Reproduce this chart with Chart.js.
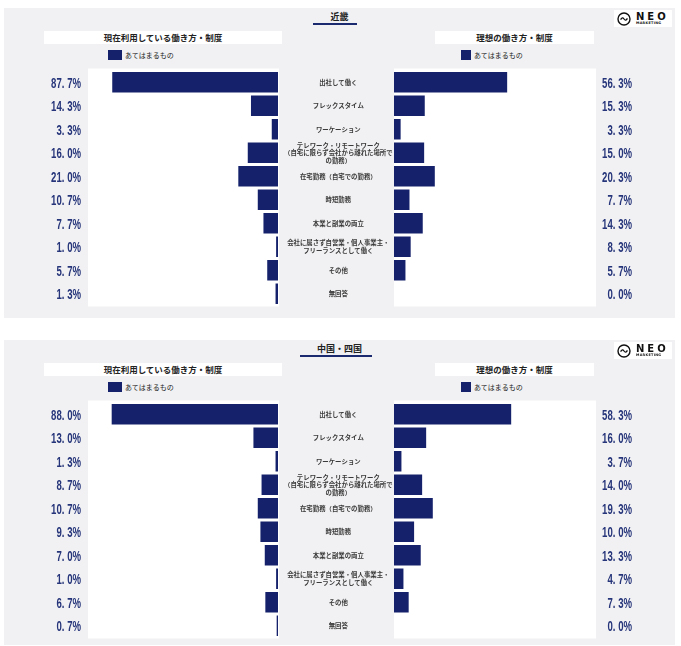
<!DOCTYPE html>
<html lang="ja">
<head>
<meta charset="utf-8">
<script src="https://cdn.jsdelivr.net/npm/chart.js@4.4.1/dist/chart.umd.min.js"></script>
<style>
  body { margin: 0; background: #fff; width: 681px; height: 646px; position: relative; overflow: hidden; font-family: "Noto Sans CJK JP", sans-serif; }
  .panel { position: absolute; left: 4px; width: 671px; background: #f1f1f3; }
  .title { position: absolute; top: 3px; left: 0; width: 671px; text-align: center; font-size: 9px; font-weight: bold; color: #222; line-height: 12px; }
  .uline { position: absolute; top: 15px; height: 2px; background: #1b2a6e; }
  .sub { position: absolute; top: 23px; height: 13px; background: #fff; font-size: 8.5px; font-weight: bold; color: #222; text-align: center; line-height: 13px; }
  .leg { position: absolute; top: 42px; font-size: 7px; color: #222; line-height: 11px; white-space: nowrap; }
  .leg i { display: inline-block; height: 10px; background: #15226b; vertical-align: top; margin-right: 3px; }
  .logo { position: absolute; left: 610px; top: 2px; width: 58px; height: 17px; background: #fff; }
  .logo b { position: absolute; left: 22px; top: 1px; font: bold 10px "DejaVu Sans", sans-serif; letter-spacing: 3px; color: #111; line-height: 11px; }
  .logo small { position: absolute; left: 22px; top: 11px; font: bold 3.4px "DejaVu Sans", sans-serif; letter-spacing: 0.3px; color: #111; }
  .logo svg { position: absolute; left: 3px; top: 2px; }
  canvas { position: absolute; top: 0; }
</style>
</head>
<body>

<div class="panel" id="p1" style="top:8px;height:310px">
  <div class="title">近畿</div>
  <div class="uline" style="left:309px;width:44px"></div>
  <div class="sub" style="left:40px;width:238px">現在利用している働き方・制度</div>
  <div class="sub" style="left:431px;width:159px">理想の働き方・制度</div>
  <div class="leg" style="left:104px"><i style="width:14px"></i>あてはまるもの</div>
  <div class="leg" style="left:457px"><i style="width:10px"></i>あてはまるもの</div>
  <div class="logo"><svg width="14" height="14"><circle cx="7" cy="7" r="6" fill="none" stroke="#111" stroke-width="1.4"/><path d="M3.6 7.6 Q5.3 4.4 7 7 T10.4 6.4" fill="none" stroke="#111" stroke-width="1.3"/></svg><b>NEO</b><small>MARKETING</small></div>
  <canvas id="c1l" width="391" height="310" style="left:0"></canvas>
  <canvas id="c1r" width="281" height="310" style="left:390px"></canvas>
</div>

<div class="panel" id="p2" style="top:340px;height:305px">
  <div class="title">中国・四国</div>
  <div class="uline" style="left:296px;width:72px"></div>
  <div class="sub" style="left:40px;width:238px">現在利用している働き方・制度</div>
  <div class="sub" style="left:431px;width:159px">理想の働き方・制度</div>
  <div class="leg" style="left:104px"><i style="width:14px"></i>あてはまるもの</div>
  <div class="leg" style="left:457px"><i style="width:10px"></i>あてはまるもの</div>
  <div class="logo"><svg width="14" height="14"><circle cx="7" cy="7" r="6" fill="none" stroke="#111" stroke-width="1.4"/><path d="M3.6 7.6 Q5.3 4.4 7 7 T10.4 6.4" fill="none" stroke="#111" stroke-width="1.3"/></svg><b>NEO</b><small>MARKETING</small></div>
  <canvas id="c2l" width="391" height="305" style="left:0"></canvas>
  <canvas id="c2r" width="281" height="305" style="left:390px"></canvas>
</div>

<script>
// Categories (multi-line labels as arrays)
const categories = [
  "出社して働く",
  "フレックスタイム",
  "ワーケーション",
  ["テレワーク・リモートワーク", "（自宅に限らず会社から離れた場所で", "の勤務）"],
  "在宅勤務（自宅での勤務）",
  "時短勤務",
  "本業と副業の両立",
  ["会社に属さず自営業・個人事業主・", "フリーランスとして働く"],
  "その他",
  "無回答"
];

// 近畿
const kinkiNow = [87.7, 14.3, 3.3, 16.0, 21.0, 10.7, 7.7, 1.0, 5.7, 1.3];
const kinkiIdeal = [56.3, 15.3, 3.3, 15.0, 20.3, 7.7, 14.3, 8.3, 5.7, 0.0];

// 中国・四国
const chushikokuNow = [88.0, 13.0, 1.3, 8.7, 10.7, 9.3, 7.0, 1.0, 6.7, 0.7];
const chushikokuIdeal = [58.3, 16.0, 3.7, 14.0, 19.3, 10.0, 13.3, 4.7, 7.3, 0.0];

const seriesLabel = "あてはまるもの";
const barColor = "#15226b";

// white plot background
const plotBg = {
  id: "plotBg",
  beforeDraw(chart) {
    const { ctx, chartArea: a } = chart;
    ctx.save();
    ctx.fillStyle = "#fff";
    ctx.fillRect(a.left - 1, a.top - 2, a.right - a.left + 2, a.bottom - a.top + 3);
    ctx.restore();
  }
};

// percentage labels beside each row (condensed look)
const valueLabels = {
  id: "valueLabels",
  afterDatasetsDraw(chart, args, opts) {
    const ctx = chart.ctx;
    const y = chart.scales.y;
    ctx.save();
    ctx.fillStyle = "#26357a";
    ctx.font = "bold 15px 'Liberation Sans', sans-serif";
    ctx.textAlign = "right";
    ctx.textBaseline = "middle";
    chart.data.datasets[0].data.forEach((v, i) => {
      ctx.save();
      ctx.translate(opts.x, y.getPixelForValue(i) + 1.5);
      ctx.scale(0.64, 1);
      ctx.fillText(v.toFixed(1).replace(".", ". ") + "%", 0, 0);
      ctx.restore();
    });
    ctx.restore();
  }
};

function makePair(leftId, rightId, now, ideal, h) {
  const padTop = 62.5;
  const padBottom = h - padTop - 235;

  // left: currently used (bars grow to the left, categories in the middle)
  new Chart(document.getElementById(leftId), {
    type: "bar",
    data: {
      labels: categories,
      datasets: [{ label: seriesLabel, data: now, backgroundColor: barColor, barPercentage: 0.88, categoryPercentage: 1 }]
    },
    options: {
      indexAxis: "y",
      responsive: false,
      animation: false,
      layout: { padding: { left: 85, top: padTop, bottom: padBottom, right: 0 } },
      scales: {
        x: { display: false, reverse: true, min: 0, max: 100 },
        y: {
          position: "right",
          grid: { display: false, drawTicks: false },
          border: { display: false },
          ticks: {
            crossAlign: "center",
            padding: 6,
            autoSkip: false,
            color: "#3a3a3a",
            font: { size: 6.4, weight: "bold", family: "'Noto Sans CJK JP', sans-serif", lineHeight: 1.16 }
          },
          afterFit(scale) {
            scale.width = 117;
            scale.paddingTop = 0;
            scale.paddingBottom = 0;
          }
        }
      },
      plugins: {
        legend: { display: false },
        tooltip: { enabled: false },
        valueLabels: { x: 77 }
      }
    },
    plugins: [plotBg, valueLabels]
  });

  // right: ideal
  new Chart(document.getElementById(rightId), {
    type: "bar",
    data: {
      labels: categories,
      datasets: [{ label: seriesLabel, data: ideal, backgroundColor: barColor, barPercentage: 0.88, categoryPercentage: 1 }]
    },
    options: {
      indexAxis: "y",
      responsive: false,
      animation: false,
      layout: { padding: { left: 0, top: padTop, bottom: padBottom, right: 80 } },
      scales: {
        x: { display: false, min: 0, max: 100 },
        y: { display: false }
      },
      plugins: {
        legend: { display: false },
        tooltip: { enabled: false },
        valueLabels: { x: 238 }
      }
    },
    plugins: [plotBg, valueLabels]
  });
}

makePair("c1l", "c1r", kinkiNow, kinkiIdeal, 310);
makePair("c2l", "c2r", chushikokuNow, chushikokuIdeal, 305);
</script>
</body>
</html>
